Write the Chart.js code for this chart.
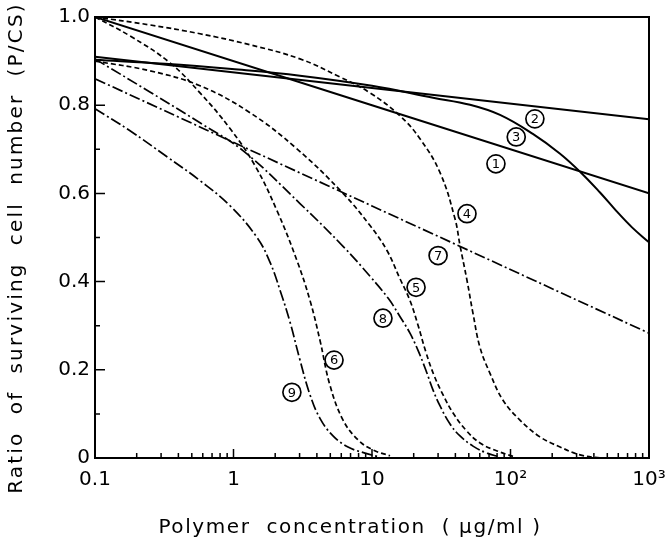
<!DOCTYPE html>
<html>
<head>
<meta charset="utf-8">
<script src="https://cdn.jsdelivr.net/npm/chart.js@4"></script>
<style>
  html, body { margin: 0; padding: 0; background: #fff; }
  #wrap { width: 666px; height: 547px; }
</style>
</head>
<body>
<div id="wrap"><canvas id="chart"></canvas></div>
<script>
// values: x = polymer concentration (ug/ml), y = P/CS
const c1X = [0.1, 1000];
const c1Y = [1.0, 0.6];
const c2X = [0.1, 1000];
const c2Y = [0.91, 0.768];
const c3X = [0.1, 0.32, 0.975, 3.02, 10, 27.6, 51, 84, 145, 228, 323, 443, 578, 754, 1000];
const c3Y = [0.903, 0.894, 0.882, 0.867, 0.844, 0.817, 0.801, 0.778, 0.735, 0.69, 0.647, 0.602, 0.561, 0.523, 0.489];
const c4X = [0.1, 0.249, 0.573, 1.316, 3.02, 5.87, 9.68, 15.9, 22.2, 31, 39.7, 43.2, 48.5, 53.6, 60.2, 71.1, 88.3, 117, 163, 228, 318, 443];
const c4Y = [1.0, 0.982, 0.962, 0.937, 0.905, 0.864, 0.828, 0.776, 0.724, 0.647, 0.543, 0.482, 0.403, 0.328, 0.251, 0.192, 0.131, 0.086, 0.048, 0.025, 0.007, 0];
const c5X = [0.1, 0.249, 0.573, 1.316, 2.87, 6.18, 9.68, 12.8, 15.9, 18.8, 21.5, 24.5, 28, 32.6, 38.5, 47.7, 60.2, 80, 108];
const c5Y = [0.9, 0.878, 0.844, 0.783, 0.701, 0.6, 0.527, 0.471, 0.407, 0.357, 0.301, 0.24, 0.188, 0.143, 0.102, 0.063, 0.034, 0.016, 0.002];
const c6X = [0.1, 0.179, 0.348, 0.573, 0.944, 1.43, 2.06, 2.87, 3.57, 4.21, 4.97, 6.18, 7.93, 10.2, 13.5];
const c6Y = [1.0, 0.957, 0.896, 0.828, 0.747, 0.663, 0.561, 0.448, 0.357, 0.267, 0.165, 0.086, 0.041, 0.018, 0.005];
const c7X = [0.1, 1000];
const c7Y = [0.86, 0.283];
const c8X = [0.1, 0.249, 0.573, 1.17, 3.02, 6.18, 9.68, 13.1, 15.9, 18.8, 21.5, 24.5, 27.6, 31, 36.6, 43.2, 53.6, 67.7, 84];
const c8Y = [0.905, 0.83, 0.76, 0.697, 0.577, 0.48, 0.412, 0.362, 0.321, 0.283, 0.244, 0.199, 0.154, 0.118, 0.077, 0.05, 0.027, 0.011, 0.002];
const c9X = [0.1, 0.179, 0.331, 0.573, 0.944, 1.48, 1.84, 2.17, 2.56, 3.02, 3.57, 4.21, 5.23, 6.71, 8.9, 11.4];
const c9Y = [0.792, 0.742, 0.683, 0.629, 0.572, 0.5, 0.443, 0.38, 0.308, 0.222, 0.143, 0.09, 0.05, 0.025, 0.011, 0.002];

// circled curve numbers and where they sit
const tagNames = ['1', '2', '3', '4', '5', '6', '7', '8', '9'];
const tagX = [78.5, 150, 110, 48.5, 20.8, 5.32, 30, 12, 2.64];
const tagY = [0.667, 0.769, 0.728, 0.554, 0.387, 0.222, 0.459, 0.317, 0.149];

// axis ticks
const xTickValues = [0.1, 1, 10, 100, 1000];
const xTickLabels = ['0.1', '1', '10', '10\u00b2', '10\u00b3'];
const xTitle = 'Polymer  concentration  ( \u00b5g/ml )';
const yTitle = 'Ratio  of  surviving  cell  number  (P/CS)';

const SOLID = [];
const DASH = [5, 3];
const DASHDOT = [11, 3, 2, 3];

function pts(xs, ys) {
    return xs.map((x, i) => ({ x: x, y: ys[i] }));
}

function curve(xs, ys, dash) {
    return {
        data: pts(xs, ys),
        borderColor: '#000',
        borderWidth: dash.length ? 1.7 : 2,
        borderDash: dash,
        pointRadius: 0,
        tension: 0.4,
        fill: false
    };
}

// frame, inward tick marks, circled numbers and axis titles
const decorations = {
    id: 'decorations',
    afterDatasetsDraw(chart) {
        const ctx = chart.ctx;
        const a = chart.chartArea;
        const x = chart.scales.x;
        const y = chart.scales.y;
        ctx.save();
        ctx.strokeStyle = '#000';
        ctx.fillStyle = '#000';
        ctx.lineWidth = 2;
        ctx.strokeRect(a.left, a.top, a.right - a.left, a.bottom - a.top);

        ctx.lineWidth = 1.5;
        ctx.beginPath();
        for (let p = -1; p < 3; p++) {
            for (let m = 1; m < 10; m++) {
                const px = x.getPixelForValue(m * Math.pow(10, p));
                const len = m === 1 ? 9 : 5;
                ctx.moveTo(px, a.bottom);
                ctx.lineTo(px, a.bottom - len);
            }
        }
        for (let k = 1; k < 10; k++) {
            const py = y.getPixelForValue(k / 10);
            const len = k % 2 === 0 ? 10 : 5;
            ctx.moveTo(a.left, py);
            ctx.lineTo(a.left + len, py);
        }
        ctx.stroke();

        ctx.font = '13px "DejaVu Sans"';
        ctx.textAlign = 'center';
        ctx.textBaseline = 'middle';
        ctx.lineWidth = 1.7;
        tagNames.forEach((t, i) => {
            const px = x.getPixelForValue(tagX[i]);
            const py = y.getPixelForValue(tagY[i]);
            ctx.beginPath();
            ctx.arc(px, py, 9, 0, Math.PI * 2);
            ctx.stroke();
            ctx.fillText(t, px, py + 1);
        });

        ctx.font = '20px "DejaVu Sans"';
        if ('letterSpacing' in ctx) ctx.letterSpacing = '1.6px';
        ctx.fillText(xTitle, (a.left + a.right) / 2 - 22, chart.height - 19);
        ctx.translate(17, 248);
        ctx.rotate(-Math.PI / 2);
        if ('letterSpacing' in ctx) ctx.letterSpacing = '2.2px';
        ctx.fillText(yTitle, 0, 0);
        ctx.restore();
    }
};

Chart.defaults.font.family = '"DejaVu Sans", sans-serif';
Chart.defaults.color = '#000';

new Chart(document.getElementById('chart'), {
    type: 'line',
    data: {
        datasets: [
            curve(c1X, c1Y, SOLID),
            curve(c2X, c2Y, SOLID),
            curve(c3X, c3Y, SOLID),
            curve(c4X, c4Y, DASH),
            curve(c5X, c5Y, DASH),
            curve(c6X, c6Y, DASH),
            curve(c7X, c7Y, DASHDOT),
            curve(c8X, c8Y, DASHDOT),
            curve(c9X, c9Y, DASHDOT)
        ]
    },
    options: {
        responsive: true,
        maintainAspectRatio: false,
        animation: false,
        layout: { padding: { left: 0, top: 16, right: 17, bottom: 0 } },
        plugins: {
            legend: { display: false },
            tooltip: { enabled: false }
        },
        scales: {
            x: {
                type: 'logarithmic',
                min: 0.1,
                max: 1000,
                grid: { display: false, drawTicks: false },
                border: { display: false },
                afterBuildTicks: function (scale) {
                    scale.ticks = xTickValues.map(v => ({ value: v }));
                },
                afterFit: function (scale) {
                    scale.height = 89;
                    scale.paddingLeft = 0;
                    scale.paddingRight = 0;
                },
                ticks: {
                    autoSkip: false,
                    maxRotation: 0,
                    padding: 10,
                    font: { size: 20 },
                    callback: function (value) {
                        const i = xTickValues.indexOf(value);
                        return i >= 0 ? xTickLabels[i] : '';
                    }
                }
            },
            y: {
                min: 0,
                max: 1,
                grid: { display: false, drawTicks: false },
                border: { display: false },
                afterFit: function (scale) {
                    scale.width = 95;
                },
                ticks: {
                    stepSize: 0.2,
                    padding: 5,
                    font: { size: 20 },
                    callback: function (value) {
                        return value === 0 ? '0' : value.toFixed(1);
                    }
                }
            }
        }
    },
    plugins: [decorations]
});
</script>
</body>
</html>
